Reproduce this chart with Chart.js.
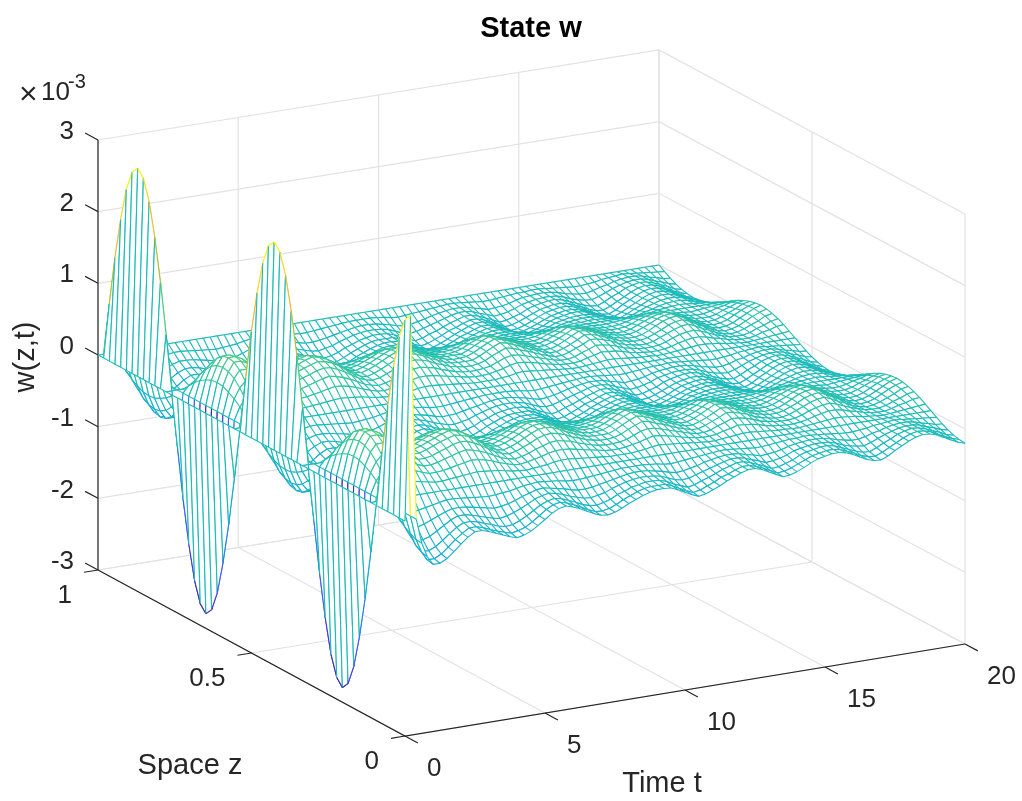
<!DOCTYPE html>
<html>
<head>
<meta charset="utf-8">
<title>State w</title>
<script src="https://cdn.jsdelivr.net/npm/chart.js@4"></script>
<style>
  html, body { margin: 0; padding: 0; background: #fff; }
  canvas { display: block; }
</style>
</head>
<body>
<canvas id="chart" width="1022" height="801"></canvas>
<script>
// axis ticks
const tTicks = [0, 5, 10, 15, 20];
const zTicks = [0, 0.5, 1];
const wTicks = [-3, -2, -1, 0, 1, 2, 3];
const tLabels = ['0', '5', '10', '15', '20'];
const zLabels = ['0', '0.5', '1'];
const wLabels = ['-3', '-2', '-1', '0', '1', '2', '3'];

// mesh positions
const tValues = [0,0.2,0.4,0.6,0.8,1,1.25,1.5,1.75,2,2.25,2.5,2.75,3,3.25,3.5,3.75,4,4.25,4.5,4.75,5,5.25,5.5,5.75,6,6.25,6.5,6.75,7,7.25,7.5,7.75,8,8.25,8.5,8.75,9,9.25,9.5,9.75,10,10.25,10.5,10.75,11,11.25,11.5,11.75,12,12.25,12.5,12.75,13,13.25,13.5,13.75,14,14.25,14.5,14.75,15,15.25,15.5,15.75,16,16.25,16.5,16.75,17,17.25,17.5,17.75,18,18.25,18.5,18.75,19,19.25,19.5,19.75,20];
const zValues = [0,0.0185,0.037,0.0556,0.0741,0.0926,0.1111,0.1296,0.1481,0.1667,0.1852,0.2037,0.2222,0.2407,0.2593,0.2778,0.2963,0.3148,0.3333,0.3519,0.3704,0.3889,0.4074,0.4259,0.4444,0.463,0.4815,0.5,0.5185,0.537,0.5556,0.5741,0.5926,0.6111,0.6296,0.6481,0.6667,0.6852,0.7037,0.7222,0.7407,0.7593,0.7778,0.7963,0.8148,0.8333,0.8519,0.8704,0.8889,0.9074,0.9259,0.9444,0.963,0.9815,1];

// w(t) across the cross-sections of the surface, units of 1e-5
const r100 = [0,285,0,-35,-55,-67,-67,-62,-54,-45,-37,-31,-31,-34,-38,-42,-46,-49,-47,-43,-37,-30,-23,-18,-16,-19,-23,-28,-33,-37,-38,-36,-32,-27,-23,-19,-16,-14,-14,-15,-19,-24,-29,-33,-31,-27,-23,-18,-14,-10,-7,-7,-10,-15,-20,-25,-24,-21,-17,-12,-8,-6,-4,-4,-6,-10,-15,-20,-23,-24,-20,-14,-9,-4,0,2,1,-2,-7,-12,-17,-20];
const r97 = [0,275,0,-34,-53,-65,-65,-60,-52,-43,-36,-30,-30,-33,-37,-41,-44,-47,-45,-42,-36,-29,-22,-17,-15,-18,-22,-27,-32,-36,-37,-35,-31,-26,-22,-18,-15,-14,-14,-14,-18,-23,-28,-32,-30,-26,-22,-17,-14,-10,-7,-7,-10,-14,-19,-24,-23,-20,-16,-12,-8,-6,-4,-4,-6,-10,-14,-19,-22,-23,-19,-14,-9,-4,0,2,1,-2,-7,-12,-16,-19];
const r87 = [0,247,0,-30,-48,-58,-58,-54,-47,-39,-32,-27,-27,-29,-33,-36,-40,-42,-41,-37,-32,-26,-20,-16,-14,-16,-20,-24,-29,-32,-33,-31,-28,-23,-20,-16,-14,-12,-12,-13,-16,-21,-25,-29,-27,-23,-20,-16,-12,-9,-6,-6,-9,-13,-17,-22,-21,-18,-15,-10,-7,-5,-3,-3,-5,-9,-13,-17,-20,-21,-17,-12,-8,-3,0,2,1,-2,-6,-10,-15,-17];
const r71 = [0,201,0,-25,-39,-47,-47,-44,-38,-32,-26,-22,-22,-24,-27,-30,-33,-35,-33,-30,-26,-21,-16,-13,-11,-13,-16,-20,-23,-26,-27,-25,-23,-19,-16,-13,-11,-10,-10,-11,-13,-17,-21,-23,-22,-19,-16,-13,-10,-7,-5,-5,-7,-11,-14,-18,-17,-15,-12,-8,-6,-4,-3,-3,-4,-7,-11,-14,-16,-17,-14,-10,-6,-3,0,1,1,-1,-5,-8,-12,-14];
const r50 = [0,143,0,-18,-28,-34,-34,-31,-27,-23,-19,-16,-16,-17,-19,-21,-23,-25,-24,-22,-19,-15,-12,-9,-8,-10,-12,-14,-17,-19,-19,-18,-16,-14,-12,-10,-8,-7,-7,-8,-10,-12,-15,-17,-16,-14,-12,-9,-7,-5,-4,-4,-5,-8,-10,-13,-12,-11,-9,-6,-4,-3,-2,-2,-3,-5,-8,-10,-12,-12,-10,-7,-5,-2,0,1,1,-1,-4,-6,-9,-10];
const r26 = [0,74,0,-9,-14,-17,-17,-16,-14,-12,-10,-8,-8,-9,-10,-11,-12,-13,-12,-11,-10,-8,-6,-5,-4,-5,-6,-7,-9,-10,-10,-9,-8,-7,-6,-5,-4,-4,-4,-4,-5,-6,-8,-9,-8,-7,-6,-5,-4,-3,-2,-2,-3,-4,-5,-6,-6,-5,-4,-3,-2,-2,-1,-1,-2,-3,-4,-5,-6,-6,-5,-4,-2,-1,0,1,0,-1,-2,-3,-4,-5];
const r0 = [0,0,0,0,0,0,0,0,0,0,0,0,0,0,0,0,0,0,0,0,0,0,0,0,0,0,0,0,0,0,0,0,0,0,0,0,0,0,0,0,0,0,0,0,0,0,0,0,0,0,0,0,0,0,0,0,0,0,0,0,0,0,0,0,0,0,0,0,0,0,0,0,0,0,0,0,0,0,0,0,0,0];
const n26 = [0,-74,0,9,14,17,17,16,14,12,10,8,8,9,10,11,12,13,12,11,10,8,6,5,4,5,6,7,9,10,10,9,8,7,6,5,4,4,4,4,5,6,8,9,8,7,6,5,4,3,2,2,3,4,5,6,6,5,4,3,2,2,1,1,2,3,4,5,6,6,5,4,2,1,0,-1,0,1,2,3,4,5];
const n50 = [0,-143,0,18,28,34,34,31,27,23,19,16,16,17,19,21,23,25,24,22,19,15,12,9,8,10,12,14,17,19,19,18,16,14,12,10,8,7,7,8,10,12,15,17,16,14,12,9,7,5,4,4,5,8,10,13,12,11,9,6,4,3,2,2,3,5,8,10,12,12,10,7,5,2,0,-1,-1,1,4,6,9,10];
const n71 = [0,-201,0,25,39,47,47,44,38,32,26,22,22,24,27,30,33,35,33,30,26,21,16,13,11,13,16,20,23,26,27,25,23,19,16,13,11,10,10,11,13,17,21,23,22,19,16,13,10,7,5,5,7,11,14,18,17,15,12,8,6,4,3,3,4,7,11,14,16,17,14,10,6,3,0,-1,-1,1,5,8,12,14];
const n87 = [0,-247,0,30,48,58,58,54,47,39,32,27,27,29,33,36,40,42,41,37,32,26,20,16,14,16,20,24,29,32,33,31,28,23,20,16,14,12,12,13,16,21,25,29,27,23,20,16,12,9,6,6,9,13,17,22,21,18,15,10,7,5,3,3,5,9,13,17,20,21,17,12,8,3,0,-2,-1,2,6,10,15,17];
const n97 = [0,-275,0,34,53,65,65,60,52,43,36,30,30,33,37,41,44,47,45,42,36,29,22,17,15,18,22,27,32,36,37,35,31,26,22,18,15,14,14,14,18,23,28,32,30,26,22,17,14,10,7,7,10,14,19,24,23,20,16,12,8,6,4,4,6,10,14,19,22,23,19,14,9,4,0,-2,-1,2,7,12,16,19];
const n100 = [0,-285,0,35,55,67,67,62,54,45,37,31,31,34,38,42,46,49,47,43,37,30,23,18,16,19,23,28,33,37,38,36,32,27,23,19,16,14,14,15,19,24,29,33,31,27,23,18,14,10,7,7,10,15,20,25,24,21,17,12,8,6,4,4,6,10,15,20,23,24,20,14,9,4,0,-2,-1,2,7,12,17,20];

// one row per z value, from z = 0 to z = 1
const wGrid = [
  r100, r97, r87, r71, r50, r26, r0, n26, n50, n71, n87, n97,
  n100, n97, n87, n71, n50, n26, r0, r26, r50, r71, r87, r97,
  r100, r97, r87, r71, r50, r26, r0, n26, n50, n71, n87, n97,
  n100, n97, n87, n71, n50, n26, r0, r26, r50, r71, r87, r97,
  r100, r97, r87, r71, r50, r26, r0
];

// parula-ish colour stops from lowest to highest w
const colorStops = [[62,38,168],[70,82,247],[38,128,230],[20,170,215],[28,188,184],[80,204,130],[178,192,60],[248,190,60],[250,250,20]];

function meshColor(w) {
  const f = Math.min(1, Math.max(0, (w + 285) / 570)) * (colorStops.length - 1);
  const i = Math.min(colorStops.length - 2, Math.floor(f));
  const a = colorStops[i], b = colorStops[i + 1], k = f - i;
  return `rgb(${a.map((v, n) => Math.round(v + (b[n] - v) * k)).join(',')})`;
}

// maps (t, z, w) onto the flat x/y scales of the chart, w given in axis units
function project(t, z, w) {
  const u = t / 20;
  const x = (1 - z) * ((1 - u) * 405 + u * 965) + z * ((1 - u) * 98 + u * 659);
  const floor = (1 - z) * ((1 - u) * 736 + u * 644) + z * ((1 - u) * 570 + u * 480);
  return { x: x, y: floor - (w + 3) * 71.67 };
}

function lineSet(points, color, width) {
  return { data: points, showLine: true, borderColor: color, borderWidth: width, pointRadius: 0, fill: false, clip: false };
}

const meshPoint = (i, j) => project(tValues[j], zValues[i], wGrid[i][j] / 100);

// white face of one mesh cell
function cellFace(i, j) {
  const corners = [meshPoint(i, j + 1), meshPoint(i, j), meshPoint(i + 1, j), meshPoint(i + 1, j + 1)];
  return { data: corners, showLine: true, borderWidth: 0, borderColor: 'rgba(0,0,0,0)', backgroundColor: '#fff', pointRadius: 0, fill: 'shape', clip: false };
}

// mesh lines of strip i for the cells jFrom..jTo, coloured by the value at their starting vertex
function stripLines(i, jFrom, jTo) {
  const strokes = [];
  const edge = (p, q, w) => {
    strokes.push({ x: p.x, y: p.y, c: meshColor(w) }, { x: q.x, y: q.y, c: meshColor(w) }, { x: NaN, y: NaN, c: '#fff' });
  };
  for (let j = jFrom; j <= jTo + 1; j++) {
    edge(meshPoint(i, j), meshPoint(i + 1, j), wGrid[i][j]);
    if (j <= jTo) {
      edge(meshPoint(i, j), meshPoint(i, j + 1), wGrid[i][j]);
      edge(meshPoint(i + 1, j), meshPoint(i + 1, j + 1), wGrid[i + 1][j]);
    }
  }
  return {
    data: strokes, showLine: true, borderWidth: 1.1, pointRadius: 0, fill: false, clip: false, spanGaps: false,
    borderColor: '#1cbcb8',
    segment: { borderColor: ctx => strokes[ctx.p0DataIndex].c }
  };
}

const datasets = [];
const gridColor = '#e2e2e2';
const axisColor = '#262626';

// back walls and floor grid
wTicks.forEach(w => {
  datasets.push(lineSet([project(0, 1, w), project(20, 1, w), project(20, 0, w)], gridColor, 1.2));
});
tTicks.forEach(t => {
  datasets.push(lineSet([project(t, 0, -3), project(t, 1, -3), project(t, 1, 3)], gridColor, 1.2));
});
zTicks.forEach(z => {
  datasets.push(lineSet([project(0, z, -3), project(20, z, -3), project(20, z, 3)], gridColor, 1.2));
});

// axis lines and tick marks
datasets.push(lineSet([project(0, 1, 3), project(0, 1, -3)], '#5a5a5a', 1.6));
datasets.push(lineSet([project(0, 1, -3), project(0, 0, -3), project(20, 0, -3)], axisColor, 1.2));
wTicks.forEach(w => {
  datasets.push(lineSet([project(0, 1, w), project(0, 1.042, w)], axisColor, 1.2));
});
tTicks.forEach(t => {
  datasets.push(lineSet([project(t, 0, -3), project(t, -0.042, -3)], axisColor, 1.2));
});
zTicks.forEach(z => {
  datasets.push(lineSet([project(0, z, -3), project(-0.5, z, -3)], axisColor, 1.2));
});

// surface, painted from the far strip to the near one; the first cell of
// each strip goes last so the spike sheet hides the lines behind it
const lastCell = tValues.length - 2;
for (let i = zValues.length - 2; i >= 0; i--) {
  for (let j = lastCell; j >= 1; j--) {
    datasets.push(cellFace(i, j));
  }
  datasets.push(stripLines(i, 1, lastCell));
  datasets.push(cellFace(i, 0));
  datasets.push(stripLines(i, 0, 0));
}

const axisText = {
  id: 'axisText',
  afterDraw(chart) {
    const { ctx, scales } = chart;
    const put = (text, x, y, align, font) => {
      ctx.font = font;
      ctx.textAlign = align;
      ctx.fillText(text, x, y);
    };
    const tickFont = '26px "Liberation Sans"';
    const labelFont = '29px "Liberation Sans"';
    ctx.save();
    ctx.fillStyle = axisColor;
    ctx.textBaseline = 'middle';
    tTicks.forEach((t, n) => {
      const p = project(t, 0, -3);
      put(tLabels[n], scales.x.getPixelForValue(p.x) + 22, scales.y.getPixelForValue(p.y) + 33, 'left', tickFont);
    });
    zTicks.forEach((z, n) => {
      const p = project(0, z, -3);
      put(zLabels[n], scales.x.getPixelForValue(p.x) - 26, scales.y.getPixelForValue(p.y) + 26, 'right', tickFont);
    });
    wTicks.forEach((w, n) => {
      const p = project(0, 1, w);
      put(wLabels[n], scales.x.getPixelForValue(p.x) - 24, scales.y.getPixelForValue(p.y) - 8, 'right', tickFont);
    });
    put('Space z', 190, 766, 'center', labelFont);
    put('Time t', 662, 784, 'center', labelFont);
    ctx.textBaseline = 'alphabetic';
    put('\u00d7', 19, 104, 'left', '32px "Liberation Sans"');
    put('10', 41, 100, 'left', tickFont);
    put('-3', 68, 88, 'left', '20px "Liberation Sans"');
    ctx.translate(26, 357);
    ctx.rotate(-Math.PI / 2);
    ctx.textBaseline = 'middle';
    put('w(z,t)', 0, 0, 'center', labelFont);
    ctx.restore();
  }
};

new Chart(document.getElementById('chart').getContext('2d'), {
  type: 'scatter',
  data: { datasets: datasets.reverse() },
  options: {
    responsive: false,
    animation: false,
    events: [],
    layout: { padding: { left: 40 } },
    scales: {
      x: { type: 'linear', display: false, min: 40, max: 1022 },
      y: { type: 'linear', display: false, min: 50.8, max: 801, reverse: true }
    },
    plugins: {
      legend: { display: false },
      tooltip: { enabled: false },
      title: {
        display: true,
        text: 'State w',
        color: '#000',
        font: { family: '"Liberation Sans"', size: 29, weight: 'bold' },
        padding: { top: 12, bottom: 4 }
      }
    }
  },
  plugins: [axisText]
});
</script>
</body>
</html>
